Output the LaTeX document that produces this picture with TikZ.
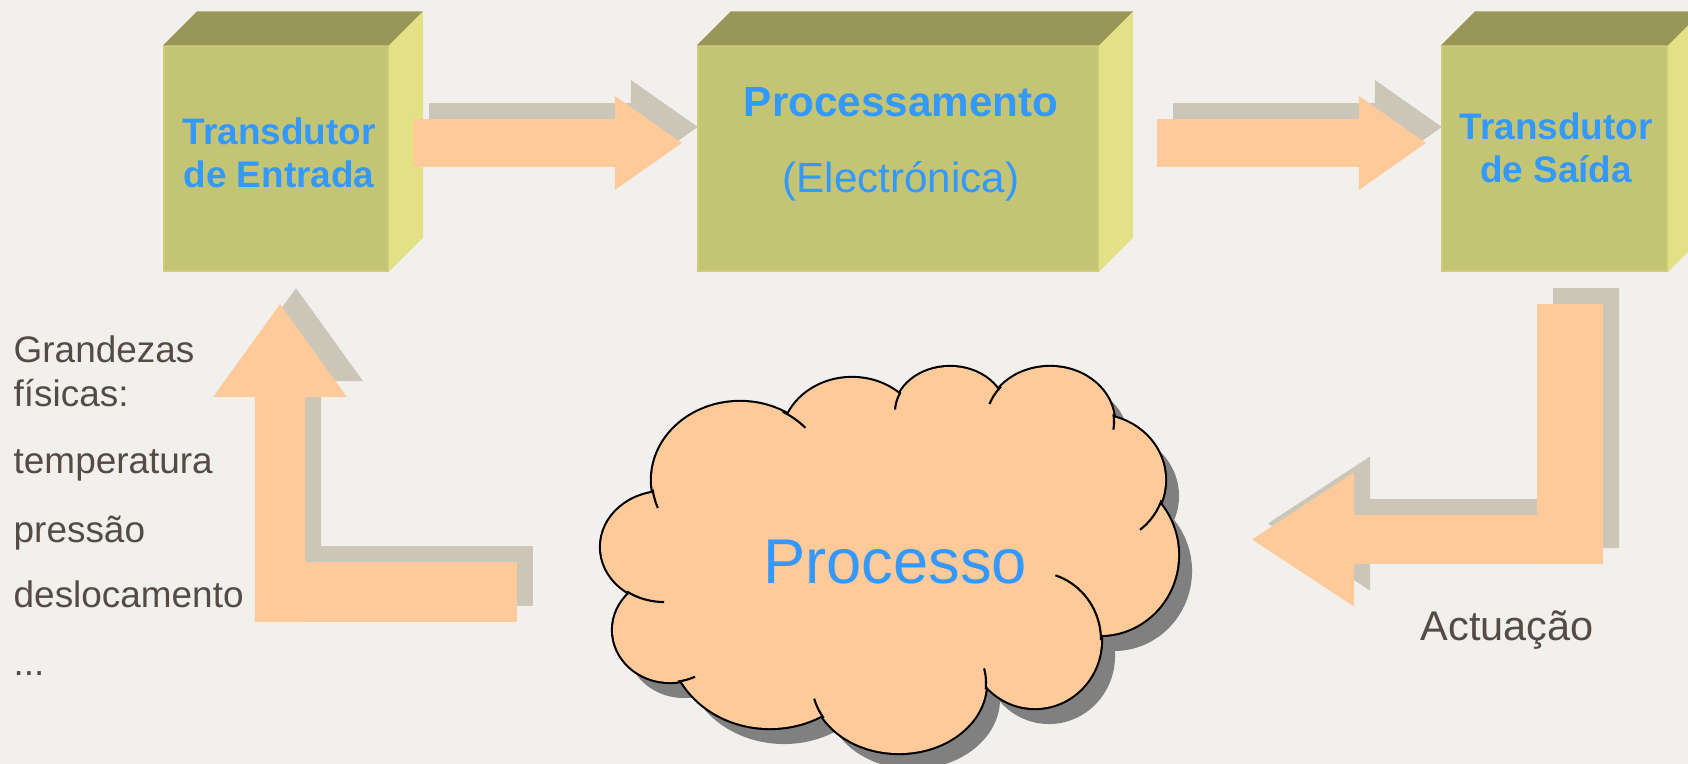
\documentclass[tikz,border=0pt]{standalone}
\usepackage{fontspec}
\setmainfont{Liberation Sans}
\usetikzlibrary{arrows.meta,calc}

\definecolor{fundo}{RGB}{242,240,237}
\definecolor{frente}{RGB}{196,196,117}
\definecolor{topo}{RGB}{153,151,88}
\definecolor{lado}{RGB}{226,225,134}
\definecolor{aresta}{RGB}{206,204,122}
\definecolor{laranja}{RGB}{255,202,153}
\definecolor{cinza}{RGB}{204,198,184}
\definecolor{cinzaescuro}{RGB}{128,128,128}
\definecolor{azul}{RGB}{51,153,255}
\definecolor{castanho}{RGB}{84,76,68}

\tikzstyle{bloco}=[rectangle,fill=frente,draw=aresta,line width=0.6pt,minimum height=2.24cm,inner sep=0pt]
\tikzstyle{titulo}=[font=\fontsize{10.5pt}{12pt}\selectfont\bfseries,text=azul,anchor=base,inner sep=0pt]
\tikzstyle{titulogrande}=[font=\fontsize{12pt}{14pt}\selectfont\bfseries,text=azul,anchor=base,inner sep=0pt]
\tikzstyle{grande}=[font=\fontsize{12pt}{14pt}\selectfont,text=azul,anchor=base,inner sep=0pt]
\tikzstyle{legenda}=[font=\fontsize{10.5pt}{12pt}\selectfont,text=castanho,anchor=base west,inner sep=0pt]
\tikzstyle{seta}=[draw=laranja,line cap=butt]
\tikzstyle{setasombra}=[draw=cinza,line cap=butt,transform canvas={shift={(16,-16)}}]

% faces de cima e do lado de um bloco
\newcommand{\cubo}[1]{%
  \fill[topo] (#1.north west) -- ++(34,-34) -- ([shift={(34,-34)}]#1.north east) -- (#1.north east) -- cycle;
  \fill[lado] (#1.north east) -- ++(34,-34) -- ([shift={(34,-34)}]#1.south east) -- (#1.south east) -- cycle;}

% bolhas da nuvem: centro / raios
\def\bolhas{664/547/0.63cm/0.55cm, 740/480/0.88cm/0.78cm, 852/440/0.70cm/0.62cm,
  950/412/0.55cm/0.45cm, 1050/422/0.64cm/0.55cm, 1095/480/0.70cm/0.65cm,
  1100/555/0.78cm/0.80cm, 1035/640/0.66cm/0.68cm, 899/683/0.87cm/0.70cm,
  770/640/1.00cm/0.88cm, 670/630/0.57cm/0.52cm}
\newcommand{\corpo}{(665,498) -- (793,425) -- (899,406) -- (993,401) -- (1103,425) -- (1148,506) -- (1091,630) -- (977,677) -- (824,703) -- (691,673) -- (642,591) -- cycle}

\begin{document}
\begin{tikzpicture}[x=0.01cm,y=-0.01cm]

\useasboundingbox (0,0) rectangle (1688,764);
\clip (0,0) rectangle (1688,764);
\fill[fundo] (0,0) rectangle (1688,764);

    % blocos
    \foreach \pos/\name/\w in {{(276,158.5)/entrada/2.24cm},{(898,158.5)/proc/4cm},{(1554.5,158.5)/saida/2.25cm}}
        \node[bloco,minimum width=\w] (\name) at \pos {};
    \foreach \name in {entrada,proc,saida}
        {\cubo{\name}}

    \node[titulo] (ent1) at (279,145) {Transdutor};
    \node[titulo] (ent2) at (279,188) {de Entrada};
    \node[titulogrande] (proc1) at (901,117) {Processamento};
    \node[grande] (proc2) at (901,193) {(Electrónica)};
    \node[titulo] (sai1) at (1556,140) {Transdutor};
    \node[titulo] (sai2) at (1556,183) {de Saída};

    % pontas das setas
    \coordinate (s1a) at ([xshift=0.24cm,yshift=0.155cm]entrada.east);
    \coordinate (s1b) at ([xshift=-0.15cm,yshift=0.155cm]proc.west);
    \coordinate (s2a) at ([xshift=0.58cm,yshift=0.155cm]proc.east);
    \coordinate (s2b) at ([xshift=-0.15cm,yshift=0.155cm]saida.west);
    \coordinate (e1) at (517,592);
    \coordinate (e2) at (255,592);
    \coordinate (e3) at (280,622);
    \coordinate (e4) at ([xshift=0.04cm,yshift=-0.325cm]entrada.south);
    \coordinate (d1) at ([xshift=0.155cm,yshift=-0.325cm]saida.south);
    \coordinate (d2) at (1570,564);
    \coordinate (d3) at (1603,539.5);
    \coordinate (d4) at (1252,539.5);

    % sombras das setas
    \draw[setasombra,line width=0.48cm,-{Triangle[length=0.67cm,width=0.94cm,line width=0pt]}] (s1a) -- (s1b);
    \draw[setasombra,line width=0.48cm,-{Triangle[length=0.67cm,width=0.94cm,line width=0pt]}] (s2a) -- (s2b);
    \draw[setasombra,line width=0.6cm] (e1) -- (e2);
    \draw[setasombra,line width=0.5cm,-{Triangle[length=0.93cm,width=1.34cm,line width=0pt]}] (e3) -- (e4);
    \draw[setasombra,line width=0.66cm] (d1) -- (d2);
    \draw[setasombra,line width=0.49cm,-{Triangle[length=1.02cm,width=1.34cm,line width=0pt]}] (d3) -- (d4);

    % setas
    \draw[seta,line width=0.48cm,-{Triangle[length=0.67cm,width=0.94cm,line width=0pt]}] (s1a) -- (s1b);
    \draw[seta,line width=0.48cm,-{Triangle[length=0.67cm,width=0.94cm,line width=0pt]}] (s2a) -- (s2b);
    \draw[seta,line width=0.6cm] (e1) -- (e2);
    \draw[seta,line width=0.5cm,-{Triangle[length=0.93cm,width=1.34cm,line width=0pt]}] (e3) -- (e4);
    \draw[seta,line width=0.66cm] (d1) -- (d2);
    \draw[seta,line width=0.49cm,-{Triangle[length=1.02cm,width=1.34cm,line width=0pt]}] (d3) -- (d4);

    % nuvem
    \begin{scope}[shift={(14,16)}]
        \foreach \cx/\cy/\rx/\ry in \bolhas
            \fill[cinzaescuro] (\cx,\cy) ellipse [x radius=\rx, y radius=\ry];
        \fill[cinzaescuro] \corpo;
    \end{scope}
    \foreach \cx/\cy/\rx/\ry in \bolhas
        \draw[line width=1.2pt] (\cx,\cy) ellipse [x radius=\rx, y radius=\ry];
    \foreach \cx/\cy/\rx/\ry in \bolhas
        \fill[laranja] (\cx,\cy) ellipse [x radius=\rx, y radius=\ry];
    \fill[laranja] \corpo;
    \foreach \cx/\cy/\rx/\ry/\ta/\tb in {664/547/63/55/90/126, 740/480/88/78/159/173, 740/480/88/78/299/318,
        950/412/55/45/183/206, 1050/422/64/55/199/220, 1050/422/64/55/-8/8, 1095/480/70/65/18/50,
        1035/640/66/68/288/360, 670/630/57/52/64/82, 899/683/87/70/150/167, 899/683/87/70/-12/5}
        \draw[line width=0.6pt] plot[domain=\ta:\tb,samples=20,variable=\t] ({\cx+\rx*cos(\t)},{\cy+\ry*sin(\t)});

    \node[font=\fontsize{18pt}{20pt}\selectfont,text=azul,anchor=base,inner sep=0pt] (processo) at (895,583) {Processo};

    % grandezas
    \foreach \y/\nome/\texto in {363/g1/Grandezas, 407/g2/físicas:, 473/g3/temperatura, 542/g4/pressão, 607/g5/deslocamento}
        \node[legenda] (\nome) at (13,\y) {\texto};
    \node[legenda] (g6) at (13,675) {...};

    \node[legenda,font=\fontsize{11.8pt}{14pt}\selectfont] (actuacao) at (1420,640) {Actuação};

\end{tikzpicture}
\end{document}
